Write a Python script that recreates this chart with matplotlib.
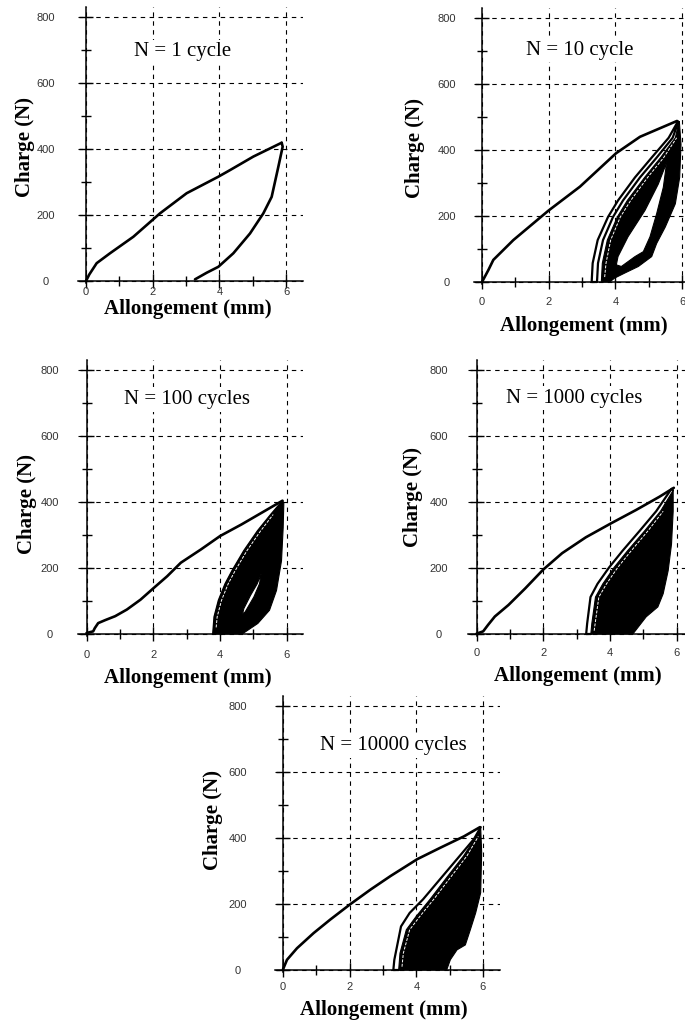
import matplotlib
matplotlib.use('Agg')
import matplotlib.pyplot as plt
from matplotlib.path import Path
from matplotlib.patches import PathPatch
import numpy as np

# ---------------- text / ticks ----------------
titles = ['N = 1 cycle', 'N = 10 cycle', 'N = 100 cycles', 'N = 1000 cycles', 'N = 10000 cycles']
xlabel_text = 'Allongement (mm)'
ylabel_text = 'Charge (N)'
x_ticks = [0, 2, 4, 6]
y_ticks = [0, 200, 400, 600, 800]
x_minor = [1, 3, 5]
y_minor = [100, 300, 500, 700]

# ---------------- data ----------------
# Panel 1 : N = 1
p1_load_x = [0, 0.1, 0.32, 0.72, 1.42, 2.22, 3.02, 3.97, 4.32, 5.02, 5.87]
p1_load_y = [0, 20, 54, 84, 134, 205, 266, 316, 336, 377, 419]
p1_unload_x = [5.87, 5.9, 5.77, 5.57, 5.32, 4.92, 4.42, 3.97, 3.62, 3.27]
p1_unload_y = [419, 407, 346, 255, 205, 144, 84, 43, 25, 5]

# Panel 2 : N = 10
p2_load_x = [0.0, 0.19, 0.34, 0.94, 1.99, 2.94, 4.02, 4.74, 5.85]
p2_load_y = [0, 36, 67, 127, 216, 289, 390, 440, 488]
p2_outer_x = [3.29, 3.32, 3.47, 3.78, 4.08, 4.59, 5.09, 5.6, 5.88]
p2_outer_y = [0, 57, 127, 197, 247, 317, 377, 437, 487]
p2_second_x = [3.45, 3.48, 3.63, 3.93, 4.23, 4.74, 5.24, 5.72, 5.88]
p2_second_y = [0, 57, 127, 197, 247, 317, 377, 437, 482]
p2_bandL_x = [3.58, 3.61, 3.76, 4.06, 4.36, 4.88, 5.36, 5.8, 5.9]
p2_bandL_y = [0, 57, 127, 197, 247, 317, 377, 437, 482]
p2_bandR_x = [5.92, 5.97, 5.93, 5.8, 5.5, 5.24, 5.09, 4.69, 4.28, 3.98, 3.83]
p2_bandR_y = [487, 417, 317, 237, 167, 117, 77, 47, 27, 12, 0]
p2_hole_x = [5.54, 5.29, 4.89, 4.38, 4.08, 4.03, 4.18, 4.59, 4.84, 5.04, 5.24, 5.44]
p2_hole_y = [362, 297, 217, 137, 77, 52, 47, 77, 92, 137, 207, 287]
p2_white_x = [3.68, 3.72, 3.86, 4.15, 4.46, 4.97, 5.45, 5.84]
p2_white_y = [15, 57, 127, 197, 247, 317, 377, 437]

# Panel 3 : N = 100
p3_load_x = [0, 0.2, 0.25, 0.35, 0.56, 0.86, 1.21, 1.62, 2.0, 2.42, 2.83, 3.43, 4.01, 4.65, 5.35, 5.88]
p3_load_y = [3, 8, 18, 33, 42, 54, 74, 104, 138, 175, 216, 256, 297, 332, 373, 404]
p3_bandL_x = [3.8, 3.84, 3.97, 4.17, 4.38, 4.73, 5.14, 5.54, 5.88]
p3_bandL_y = [0, 52, 102, 152, 192, 252, 312, 362, 402]
p3_bandR_x = [5.92, 5.9, 5.85, 5.7, 5.49, 5.14, 4.67]
p3_bandR_y = [398, 322, 222, 132, 72, 32, 0]
p3_hole_x = [5.24, 5.19, 5.02, 4.76, 4.68, 4.72, 4.92, 5.12]
p3_hole_y = [182, 152, 112, 67, 60, 77, 117, 152]
p3_white_x = [3.89, 3.92, 4.05, 4.25, 4.46, 4.81, 5.22, 5.6]
p3_white_y = [20, 52, 102, 152, 192, 252, 312, 362]

# Panel 4 : N = 1000
p4_load_x = [0, 0.2, 0.35, 0.55, 0.96, 1.46, 2.0, 2.57, 3.28, 4.03, 4.79, 5.49, 5.92]
p4_load_y = [1, 8, 28, 53, 88, 138, 195, 245, 293, 335, 376, 416, 443]
p4_outer_x = [3.29, 3.32, 3.42, 3.63, 3.98, 4.38, 4.89, 5.39, 5.85]
p4_outer_y = [0, 32, 112, 152, 202, 252, 312, 372, 440]
p4_bandL_x = [3.43, 3.46, 3.57, 3.79, 4.13, 4.53, 5.04, 5.52, 5.88]
p4_bandL_y = [0, 32, 112, 152, 202, 252, 312, 372, 432]
p4_bandR_x = [5.9, 5.9, 5.85, 5.75, 5.6, 5.44, 5.09, 4.69]
p4_bandR_y = [438, 372, 272, 192, 122, 82, 52, 0]
p4_white_x = [3.53, 3.56, 3.67, 3.9, 4.24, 4.64, 5.14, 5.6]
p4_white_y = [10, 32, 112, 152, 202, 252, 312, 372]

# Panel 5 : N = 10000
p5_load_x = [0, 0.12, 0.42, 0.92, 1.42, 2.0, 2.63, 3.23, 4.03, 4.73, 5.43, 5.91]
p5_load_y = [2, 31, 66, 112, 153, 198, 244, 285, 336, 371, 405, 433]
p5_outer_x = [3.31, 3.34, 3.54, 3.8, 4.2, 4.71, 5.22, 5.73, 5.93]
p5_outer_y = [0, 31, 132, 173, 214, 275, 336, 397, 433]
p5_bandL_x = [3.47, 3.51, 3.7, 4.0, 4.41, 4.91, 5.42, 5.9]
p5_bandL_y = [0, 51, 122, 163, 214, 280, 346, 422]
p5_bandR_x = [5.93, 5.96, 5.93, 5.78, 5.62, 5.47, 5.22, 5.02, 4.91]
p5_bandR_y = [433, 356, 234, 173, 122, 76, 61, 31, 0]
p5_white_x = [3.57, 3.61, 3.8, 4.11, 4.52, 5.02, 5.52, 5.86]
p5_white_y = [10, 51, 122, 163, 214, 280, 346, 405]

# ---------------- layout (pixels) ----------------
W, H = 685, 1030
SX = 200.0 / 6.0
SY = 264.0 / 800.0
XMIN, XMAX = -0.25, 6.5
YMIN, YMAX = -6, 830

# (x0px, y0px, ytick_dist, xtick_dist, xlabel(px,py), ylabel(px,py), title(x,y data))
layout = [
    (86.0, 281.0, 40, 11, (188, 309), (25, 147), (2.9, 694)),
    (482.0, 282.0, 35, 20, (584, 326), (415, 148), (2.94, 703)),
    (86.5, 634.0, 37, 21, (188, 678), (27, 504), (3.0, 711)),
    (476.5, 634.0, 38, 19, (578, 676), (413, 497), (2.92, 715)),
    (283.0, 970.0, 45, 17, (384, 1010), (213, 820), (3.3, 680)),
]

SERIF = ['Liberation Serif', 'DejaVu Serif']
SANS = ['Liberation Sans', 'DejaVu Sans']
MAJ_LEN = 10
LW_CURVE = 1.9
LW_LOOP = 1.6

fig = plt.figure(figsize=(W / 100, H / 100), dpi=100)


def make_axes(x0, y0):
    left = x0 + XMIN * SX
    right = x0 + XMAX * SX
    top = y0 - YMAX * SY
    bottom = y0 - YMIN * SY
    return fig.add_axes([left / W, 1 - bottom / H, (right - left) / W, (bottom - top) / H])


def signed_area(xs, ys):
    x = np.asarray(xs, float)
    y = np.asarray(ys, float)
    return 0.5 * np.sum(x * np.roll(y, -1) - np.roll(x, -1) * y)


def band_patch(ax, lx, ly, rx, ry, hx=None, hy=None):
    ox = list(lx) + list(rx)
    oy = list(ly) + list(ry)
    if signed_area(ox, oy) < 0:
        ox, oy = ox[::-1], oy[::-1]
    verts = list(zip(ox, oy)) + [(ox[0], oy[0])]
    codes = [Path.MOVETO] + [Path.LINETO] * (len(ox) - 1) + [Path.CLOSEPOLY]
    if hx is not None:
        hxx, hyy = list(hx), list(hy)
        if signed_area(hxx, hyy) > 0:
            hxx, hyy = hxx[::-1], hyy[::-1]
        verts += list(zip(hxx, hyy)) + [(hxx[0], hyy[0])]
        codes += [Path.MOVETO] + [Path.LINETO] * (len(hxx) - 1) + [Path.CLOSEPOLY]
    patch = PathPatch(Path(verts, codes), facecolor='black', edgecolor='black',
                      linewidth=0.8, zorder=3)
    ax.add_patch(patch)


axes = []
for i, (x0, y0, ydist, xdist, xl, yl, tt) in enumerate(layout):
    ax = make_axes(x0, y0)
    axes.append(ax)
    ax.set_xlim(XMIN, XMAX)
    ax.set_ylim(YMIN, YMAX)
    ax.patch.set_alpha(0)
    for s in ['top', 'right']:
        ax.spines[s].set_visible(False)
    ax.spines['left'].set_position(('data', 0))
    ax.spines['bottom'].set_position(('data', 0))
    for s in ['left', 'bottom']:
        ax.spines[s].set_linewidth(1.1)
        ax.spines[s].set_color('black')
    ax.xaxis.set_ticks_position('bottom')
    ax.yaxis.set_ticks_position('left')
    ax.set_xticks(x_ticks)
    ax.set_yticks(y_ticks)
    ax.set_xticks(x_minor, minor=True)
    ax.set_yticks(y_minor, minor=True)
    ax.set_xticklabels([str(v) for v in x_ticks], family=SANS, fontsize=8, color='#333333')
    ax.set_yticklabels([str(v) for v in y_ticks], family=SANS, fontsize=8, color='#333333')
    ax.tick_params(which='major', direction='inout', length=MAJ_LEN, width=1.0, color='black')
    ax.tick_params(which='minor', direction='inout', length=7, width=1.0, color='black')
    ax.tick_params(axis='y', which='major', pad=ydist * 0.72 - MAJ_LEN / 2)
    ax.tick_params(axis='x', which='major', pad=xdist * 0.72 - MAJ_LEN / 2)
    for lab in ax.get_yticklabels():
        lab.set_horizontalalignment('center')
    for lab in ax.get_xticklabels():
        lab.set_verticalalignment('center')
    ax.set_axisbelow(True)
    ax.grid(True, which='major', linestyle=(0, (4, 4)), color='black', linewidth=0.8)

    ax.set_xlabel(xlabel_text, family=SERIF, fontweight='bold', fontsize=15, va='center')
    ax.xaxis.set_label_coords(xl[0] / W, 1 - xl[1] / H, transform=fig.transFigure)
    ax.set_ylabel(ylabel_text, family=SERIF, fontweight='bold', fontsize=15, va='center')
    ax.yaxis.set_label_coords(yl[0] / W, 1 - yl[1] / H, transform=fig.transFigure)
    ax.text(tt[0], tt[1], titles[i], family=SERIF, fontsize=15, ha='center', va='center',
            zorder=6, bbox=dict(facecolor='white', edgecolor='none', pad=2))

curve = dict(color='black', linewidth=LW_CURVE, solid_capstyle='round', solid_joinstyle='round', zorder=4)
loop = dict(color='black', linewidth=LW_LOOP, solid_capstyle='round', solid_joinstyle='round', zorder=4)
white = dict(color='white', linewidth=0.7, linestyle=(0, (3, 1.5)), zorder=5)

# Panel 1
ax = axes[0]
ax.plot(p1_load_x, p1_load_y, **curve)
ax.plot(p1_unload_x, p1_unload_y, **curve)

# Panel 2
ax = axes[1]
ax.plot(p2_load_x, p2_load_y, **curve)
band_patch(ax, p2_bandL_x, p2_bandL_y, p2_bandR_x, p2_bandR_y, p2_hole_x, p2_hole_y)
ax.plot(p2_second_x[::-1] + p2_outer_x, p2_second_y[::-1] + p2_outer_y, **loop)
ax.plot(p2_white_x, p2_white_y, **white)

# Panel 3
ax = axes[2]
ax.plot(p3_load_x, p3_load_y, **curve)
band_patch(ax, p3_bandL_x, p3_bandL_y, p3_bandR_x, p3_bandR_y, p3_hole_x, p3_hole_y)
ax.plot(p3_bandL_x, p3_bandL_y, **loop)
ax.plot(p3_white_x, p3_white_y, **white)

# Panel 4
ax = axes[3]
ax.plot(p4_load_x, p4_load_y, **curve)
band_patch(ax, p4_bandL_x, p4_bandL_y, p4_bandR_x, p4_bandR_y)
ax.plot(p4_bandL_x[:1] + p4_outer_x, p4_bandL_y[:1] + p4_outer_y, **loop)
ax.plot(p4_white_x, p4_white_y, **white)

# Panel 5
ax = axes[4]
ax.plot(p5_load_x, p5_load_y, **curve)
band_patch(ax, p5_bandL_x, p5_bandL_y, p5_bandR_x, p5_bandR_y)
ax.plot(p5_bandL_x[:1] + p5_outer_x, p5_bandL_y[:1] + p5_outer_y, **loop)
ax.plot(p5_white_x, p5_white_y, **white)

fig.savefig('out.png', dpi=100)
